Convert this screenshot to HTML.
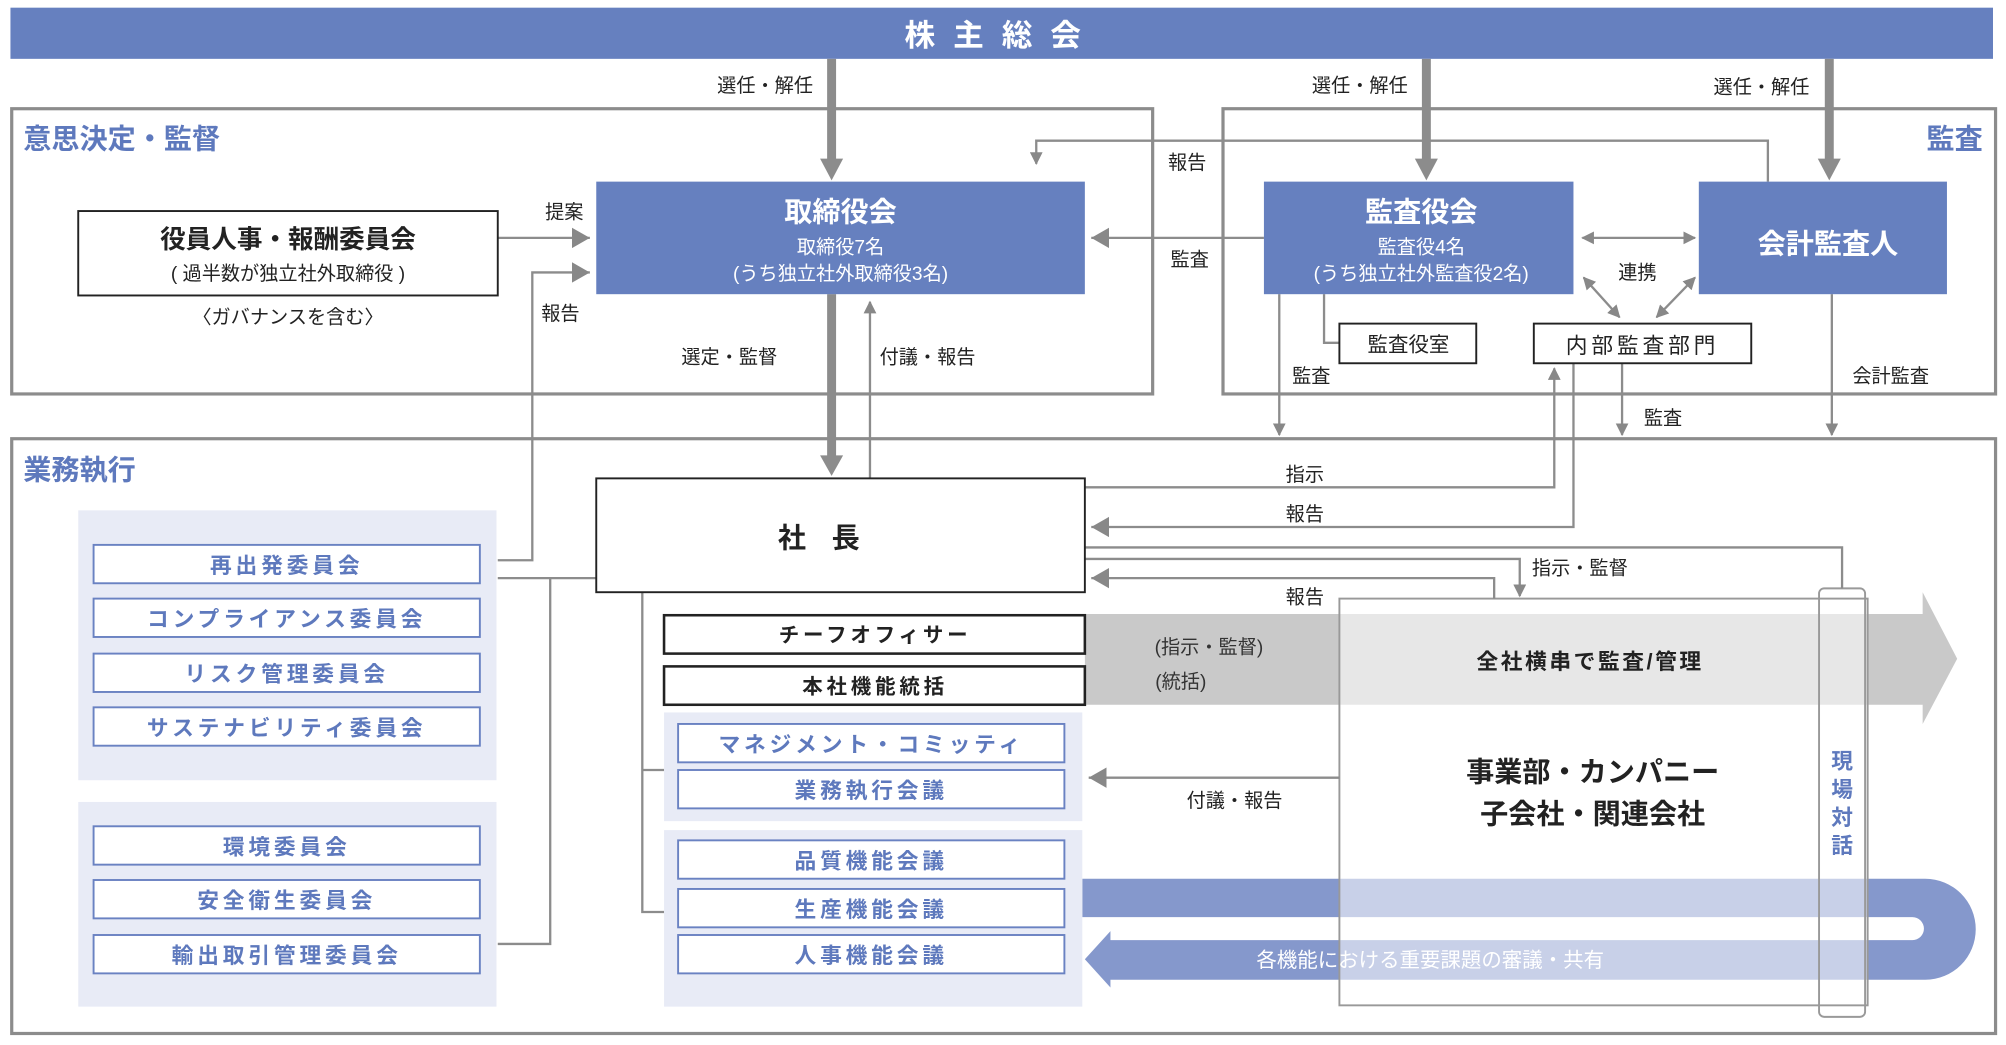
<!DOCTYPE html>
<html><head><meta charset="utf-8"><style>
html,body{margin:0;padding:0;background:#fff}
svg{display:block}
text{font-family:"Liberation Sans","Noto Sans CJK JP",sans-serif}
</style></head><body>
<svg width="2006" height="1045" viewBox="0 0 1568 817" xmlns="http://www.w3.org/2000/svg">
<defs>
<marker id="ah" markerWidth="10" markerHeight="10" refX="9" refY="5" orient="auto" markerUnits="userSpaceOnUse"><path d="M0,0 L10,5 L0,10 z" fill="#888"/></marker>
<marker id="as" markerWidth="10" markerHeight="10" refX="1" refY="5" orient="auto" markerUnits="userSpaceOnUse"><path d="M10,0 L0,5 L10,10 z" fill="#888"/></marker>
<marker id="big" markerWidth="16" markerHeight="16" refX="14" refY="8" orient="auto" markerUnits="userSpaceOnUse"><path d="M0,0 L14,8 L0,16 z" fill="#888"/></marker>
</defs>
<!-- banner -->
<rect x="8" y="6" width="1550" height="40" fill="#6680bf"/>
<text x="783" y="36" fill="#fff" font-size="24" font-weight="bold" text-anchor="middle" letter-spacing="14">株主総会</text>

<!-- section boxes -->
<rect x="9" y="85" width="892" height="223" fill="none" stroke="#8c8c8c" stroke-width="2.5"/>
<rect x="956" y="85" width="604" height="223" fill="none" stroke="#8c8c8c" stroke-width="2.5"/>
<rect x="9" y="343" width="1551" height="465" fill="none" stroke="#8c8c8c" stroke-width="2.5"/>
<text x="18" y="116" fill="#5e79bd" font-size="22" font-weight="bold">意思決定・監督</text>
<text x="1550" y="116" fill="#5e79bd" font-size="22" font-weight="bold" text-anchor="end">監査</text>
<text x="18" y="375" fill="#5e79bd" font-size="22" font-weight="bold">業務執行</text>

<!-- gray big arrow -->
<polygon points="848,480 1503,480 1503,463 1530,515 1503,566 1503,551 848,551" fill="#c9c9c9"/>
<!-- blue U arrow -->
<path d="M846,687 L1505,687 A39,39 0 0 1 1505,766 L868,766 L868,772 L848,750 L868,728 L868,735 L1495,735 A9,9 0 0 0 1495,717 L846,717 Z" fill="#8598cc"/>
<!-- 事業部 box -->
<rect x="1047" y="468" width="413" height="318" fill="#fff" fill-opacity="0.55" stroke="#999" stroke-width="1.5"/>
<rect x="1422" y="460" width="36" height="335" rx="4" fill="none" stroke="#999" stroke-width="1.5"/>
<text x="1440" y="601" fill="#5e79bd" font-size="17" font-weight="bold" text-anchor="middle">現</text>
<text x="1440" y="623" fill="#5e79bd" font-size="17" font-weight="bold" text-anchor="middle">場</text>
<text x="1440" y="645" fill="#5e79bd" font-size="17" font-weight="bold" text-anchor="middle">対</text>
<text x="1440" y="667" fill="#5e79bd" font-size="17" font-weight="bold" text-anchor="middle">話</text>
<text x="1245" y="611" font-size="22" font-weight="bold" text-anchor="middle" fill="#222">事業部・カンパニー</text>
<text x="1245" y="644" font-size="22" font-weight="bold" text-anchor="middle" fill="#222">子会社・関連会社</text>
<text x="1243" y="523" font-size="17" font-weight="bold" text-anchor="middle" fill="#222" letter-spacing="2">全社横串で監査/管理</text>
<text x="945" y="511" font-size="15" text-anchor="middle" fill="#333">(指示・監督)</text>
<text x="923" y="538" font-size="15" text-anchor="middle" fill="#333">(統括)</text>
<text x="1118" y="756" font-size="16" text-anchor="middle" fill="#fff">各機能における重要課題の審議・共有</text>

<!-- thick arrows -->
<g stroke="#8c8c8c" stroke-width="7" fill="none">
<line x1="650" y1="46" x2="650" y2="126"/>
<line x1="1115" y1="46" x2="1115" y2="126"/>
<line x1="1430" y1="46" x2="1430" y2="126"/>
<line x1="650" y1="230" x2="650" y2="358"/>
</g>
<g fill="#8c8c8c">
<path d="M641,124 L659,124 L650,141 z"/>
<path d="M1106,124 L1124,124 L1115,141 z"/>
<path d="M1421,124 L1439,124 L1430,141 z"/>
<path d="M641,356 L659,356 L650,372 z"/>
</g>
<g font-size="15" fill="#222">
<text x="598" y="72" text-anchor="middle">選任・解任</text>
<text x="1063" y="72" text-anchor="middle">選任・解任</text>
<text x="1377" y="73" text-anchor="middle">選任・解任</text>
<text x="928" y="132" text-anchor="middle">報告</text>
<text x="930" y="208" text-anchor="middle">監査</text>
<text x="1280" y="218" text-anchor="middle">連携</text>
<text x="1025" y="299" text-anchor="middle">監査</text>
<text x="1478" y="299" text-anchor="middle">会計監査</text>
<text x="1300" y="332" text-anchor="middle">監査</text>
<text x="441" y="171" text-anchor="middle">提案</text>
<text x="438" y="250" text-anchor="middle">報告</text>
<text x="570" y="284" text-anchor="middle">選定・監督</text>
<text x="725" y="284" text-anchor="middle">付議・報告</text>
<text x="1020" y="376" text-anchor="middle">指示</text>
<text x="1020" y="407" text-anchor="middle">報告</text>
<text x="1235" y="449" text-anchor="middle">指示・監督</text>
<text x="1020" y="472" text-anchor="middle">報告</text>
<text x="965" y="631" text-anchor="middle">付議・報告</text>
<text x="368" y="780" text-anchor="middle">等</text>
<text x="823" y="779" text-anchor="middle">等</text>
</g>

<!-- thin connectors -->
<g stroke="#8c8c8c" stroke-width="1.8" fill="none">
<polyline points="1382,142 1382,110 810,110 810,128" marker-end="url(#ah)"/>
<line x1="988" y1="186" x2="853" y2="186" marker-end="url(#big)"/>
<line x1="1237" y1="186" x2="1325" y2="186" marker-start="url(#as)" marker-end="url(#ah)"/>
<line x1="1238" y1="217" x2="1266" y2="248" marker-start="url(#as)" marker-end="url(#ah)"/>
<line x1="1325" y1="217" x2="1295" y2="248" marker-start="url(#as)" marker-end="url(#ah)"/>
<polyline points="1035,230 1035,268 1047,268"/>
<line x1="1000" y1="230" x2="1000" y2="340" marker-end="url(#ah)"/>
<line x1="1432" y1="230" x2="1432" y2="340" marker-end="url(#ah)"/>
<line x1="1268" y1="284" x2="1268" y2="340" marker-end="url(#ah)"/>
<polyline points="848,381 1215,381 1215,288" marker-end="url(#ah)"/>
<polyline points="1230,284 1230,412 853,412" marker-end="url(#big)"/>
<polyline points="848,428 1440,428 1440,460"/>
<polyline points="848,437 1188,437 1188,466" marker-end="url(#ah)"/>
<polyline points="1168,468 1168,452 853,452" marker-end="url(#big)"/>
<line x1="1047" y1="608" x2="851" y2="608" marker-end="url(#big)"/>
<line x1="389" y1="186" x2="461" y2="186" marker-end="url(#big)"/>
<polyline points="389,438 416,438 416,213 461,213" marker-end="url(#big)"/>
<line x1="680" y1="374" x2="680" y2="236" marker-end="url(#ah)"/>
<polyline points="466,452 389,452"/>
<polyline points="430,452 430,738 389,738"/>
<polyline points="502,463 502,713 519,713"/>
<line x1="502" y1="602" x2="519" y2="602"/>
</g>

<!-- blue boxes -->
<rect x="466" y="142" width="382" height="88" fill="#6680bf"/>
<text x="657" y="173" fill="#fff" font-size="22" font-weight="bold" text-anchor="middle">取締役会</text>
<text x="657" y="198" fill="#fff" font-size="15" text-anchor="middle">取締役7名</text>
<text x="657" y="219" fill="#fff" font-size="15" text-anchor="middle">(うち独立社外取締役3名)</text>
<rect x="988" y="142" width="242" height="88" fill="#6680bf"/>
<text x="1111" y="173" fill="#fff" font-size="22" font-weight="bold" text-anchor="middle">監査役会</text>
<text x="1111" y="198" fill="#fff" font-size="15" text-anchor="middle">監査役4名</text>
<text x="1111" y="219" fill="#fff" font-size="15" text-anchor="middle">(うち独立社外監査役2名)</text>
<rect x="1328" y="142" width="194" height="88" fill="#6680bf"/>
<text x="1429" y="198" fill="#fff" font-size="22" font-weight="bold" text-anchor="middle">会計監査人</text>

<!-- white boxes -->
<g stroke="#222" fill="#fff">
<rect x="61" y="165" width="328" height="66" stroke-width="1.5"/>
<rect x="1047" y="253" width="107" height="31" stroke-width="1.5"/>
<rect x="1199" y="253" width="170" height="31" stroke-width="1.5"/>
<rect x="466" y="374" width="382" height="89" stroke-width="1.5"/>
<rect x="519" y="481" width="329" height="30" stroke-width="2"/>
<rect x="519" y="521" width="329" height="30" stroke-width="2"/>
</g>
<text x="225" y="194" font-size="20" font-weight="bold" text-anchor="middle" fill="#222">役員人事・報酬委員会</text>
<text x="225" y="219" font-size="15" text-anchor="middle" fill="#222">( 過半数が独立社外取締役 )</text>
<text x="225" y="253" font-size="15" text-anchor="middle" fill="#222">〈ガバナンスを含む〉</text>
<text x="1101" y="275" font-size="16" text-anchor="middle" fill="#222">監査役室</text>
<text x="1284" y="276" font-size="17" text-anchor="middle" fill="#222" letter-spacing="3">内部監査部門</text>
<text x="650" y="428" font-size="22" font-weight="bold" text-anchor="middle" fill="#222" letter-spacing="20">社長</text>
<text x="684" y="502" font-size="16" font-weight="bold" text-anchor="middle" fill="#222" letter-spacing="3">チーフオフィサー</text>
<text x="684" y="542" font-size="16" font-weight="bold" text-anchor="middle" fill="#222" letter-spacing="3">本社機能統括</text>

<!-- panels -->
<g fill="#e8ebf6">
<rect x="61" y="399" width="327" height="211"/>
<rect x="61" y="627" width="327" height="160"/>
<rect x="519" y="557" width="327" height="85"/>
<rect x="519" y="649" width="327" height="138"/>
</g>
<g fill="#fff" stroke="#6a82c2" stroke-width="1.5">
<rect x="73" y="426" width="302" height="30"/>
<rect x="73" y="468" width="302" height="30"/>
<rect x="73" y="511" width="302" height="30"/>
<rect x="73" y="553" width="302" height="30"/>
<rect x="73" y="646" width="302" height="30"/>
<rect x="73" y="688" width="302" height="30"/>
<rect x="73" y="731" width="302" height="30"/>
<rect x="530" y="566" width="302" height="30"/>
<rect x="530" y="602" width="302" height="30"/>
<rect x="530" y="657" width="302" height="30"/>
<rect x="530" y="695" width="302" height="30"/>
<rect x="530" y="731" width="302" height="30"/>
</g>
<g font-size="17" font-weight="bold" fill="#5e79bd" text-anchor="middle" letter-spacing="3">
<text x="224" y="448">再出発委員会</text>
<text x="224" y="490">コンプライアンス委員会</text>
<text x="224" y="533">リスク管理委員会</text>
<text x="224" y="575">サステナビリティ委員会</text>
<text x="224" y="668">環境委員会</text>
<text x="224" y="710">安全衛生委員会</text>
<text x="224" y="753">輸出取引管理委員会</text>
<text x="681" y="588">マネジメント・コミッティ</text>
<text x="681" y="624">業務執行会議</text>
<text x="681" y="679">品質機能会議</text>
<text x="681" y="717">生産機能会議</text>
<text x="681" y="753">人事機能会議</text>
</g>
</svg>
</body></html>
